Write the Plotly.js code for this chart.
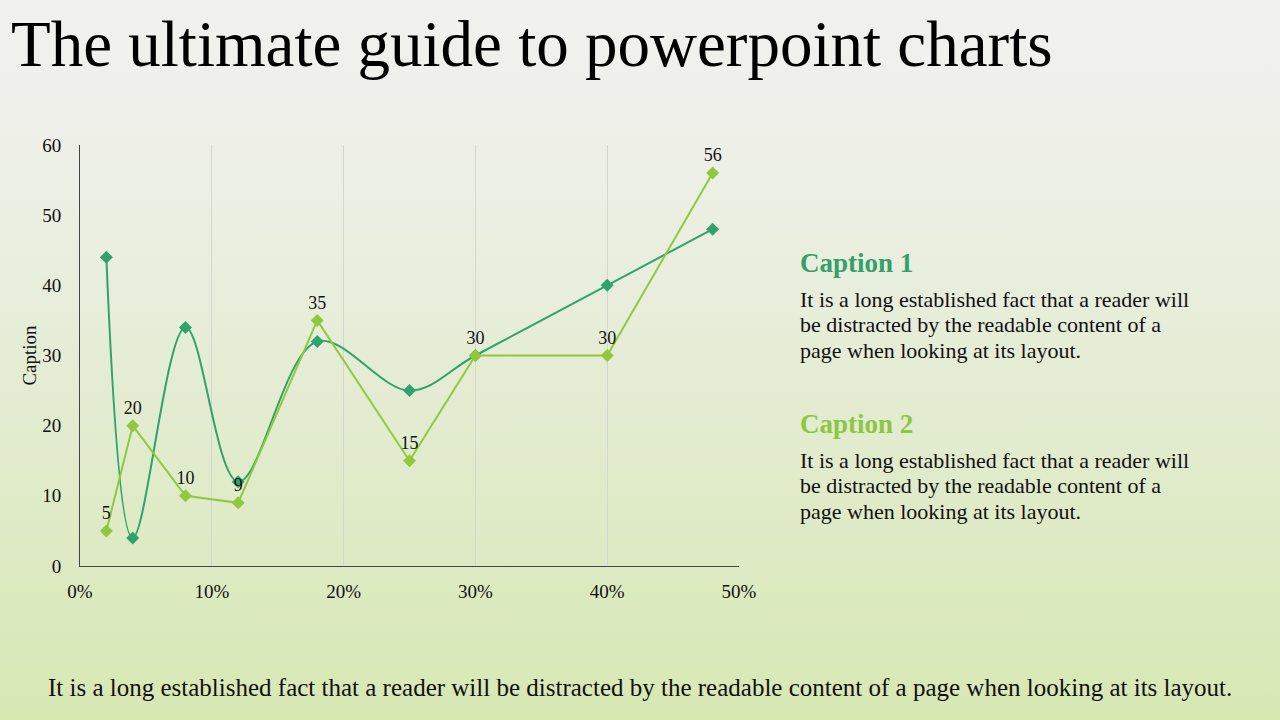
<!DOCTYPE html>
<html>
<head>
<meta charset="utf-8">
<script src="https://cdn.plot.ly/plotly-3.0.1.min.js"></script>
<style>
html,body{margin:0;padding:0;width:1280px;height:720px;overflow:hidden;}
body{background:linear-gradient(to bottom,#f1f1ef 0%,#eef0e8 20%,#e3ecd2 55%,#d7e8b3 100%);}
#chart{width:1280px;height:720px;}
</style>
</head>
<body>
<div id="chart"></div>
<script>
const xValues = [0.02, 0.04, 0.08, 0.12, 0.18, 0.25, 0.30, 0.40, 0.48];
const series1 = [44, 4, 34, 12, 32, 25, 30, 40, 48];
const series2 = [5, 20, 10, 9, 35, 15, 30, 30, 56];
const series2Labels = ["5", "20", "10", "9", "35", "15", "30", "30", "56"];
const yTicks = [0, 10, 20, 30, 40, 50, 60];
const xTicks = [0, 0.1, 0.2, 0.3, 0.4, 0.5];
const titleText = "The ultimate guide to powerpoint charts";
const caption1 = "Caption 1";
const caption2 = "Caption 2";
const bodyLines = ["It is a long established fact that a reader will", "be distracted by the readable content of a", "page when looking at its layout."];
const footerText = "It is a long established fact that a reader will be distracted by the readable content of a page when looking at its layout.";

const dark = "#2fa36b";
const light = "#92c83e";
const serif = "Liberation Serif, DejaVu Serif, serif";

const L = 80, R = 739, T = 145, B = 566;
const px = x => (x - L) / (R - L);
const py = y => (B - y) / (B - T);

const traces = [
  {
    x: xValues, y: series1, type: "scatter", mode: "lines+markers",
    line: {color: dark, width: 2, shape: "spline", smoothing: 1},
    marker: {symbol: "diamond", size: 10, color: dark},
    hoverinfo: "skip"
  },
  {
    x: xValues, y: series2, type: "scatter", mode: "lines+markers+text",
    text: series2Labels, textposition: "top center",
    textfont: {family: serif, size: 18, color: "#111"},
    line: {color: light, width: 2},
    marker: {symbol: "diamond", size: 10, color: light},
    hoverinfo: "skip"
  }
];

const annotations = [
  {text: titleText, xref: "paper", yref: "paper", x: px(9), y: py(44), xanchor: "left", yanchor: "middle",
   showarrow: false, font: {family: serif, size: 65, color: "#000"}},
  {text: "<b>" + caption1 + "</b>", xref: "paper", yref: "paper", x: px(798), y: py(263), xanchor: "left", yanchor: "middle",
   showarrow: false, font: {family: serif, size: 27, color: "#35a06b"}},
  {text: "<b>" + caption2 + "</b>", xref: "paper", yref: "paper", x: px(798), y: py(424), xanchor: "left", yanchor: "middle",
   showarrow: false, font: {family: serif, size: 27, color: "#8dc63f"}},
  {text: footerText, xref: "paper", yref: "paper", x: px(640), y: py(687), xanchor: "center", yanchor: "middle",
   showarrow: false, font: {family: serif, size: 25, color: "#111"}}
];
[299, 460].forEach(top => {
  bodyLines.forEach((line, i) => {
    annotations.push({text: line, xref: "paper", yref: "paper", x: px(798), y: py(top + i * 25.5),
      xanchor: "left", yanchor: "middle", showarrow: false, font: {family: serif, size: 22, color: "#111"}});
  });
});

const layout = {
  width: 1280, height: 720,
  paper_bgcolor: "rgba(0,0,0,0)", plot_bgcolor: "rgba(0,0,0,0)",
  margin: {l: L, r: 1280 - R, t: T, b: 720 - B, pad: 0},
  showlegend: false,
  font: {family: serif, color: "#111"},
  xaxis: {
    range: [0, 0.5], tickvals: xTicks, tickformat: ".0%",
    showgrid: true, gridcolor: "#d4d6d0", gridwidth: 1,
    showline: true, linecolor: "#444", linewidth: 1,
    zeroline: false, ticks: "", ticklabelstandoff: 8,
    tickfont: {family: serif, size: 19, color: "#111"},
    fixedrange: true
  },
  yaxis: {
    range: [0, 60], tickvals: yTicks,
    showgrid: false, showline: true, linecolor: "#444", linewidth: 1,
    zeroline: false, ticks: "", ticklabelstandoff: 14,
    tickfont: {family: serif, size: 19, color: "#111"},
    title: {text: "Caption", font: {family: serif, size: 19, color: "#111"}, standoff: 0},
    fixedrange: true
  },
  annotations: annotations
};

Plotly.newPlot("chart", traces, layout, {staticPlot: true, displayModeBar: false});
</script>
</body>
</html>
